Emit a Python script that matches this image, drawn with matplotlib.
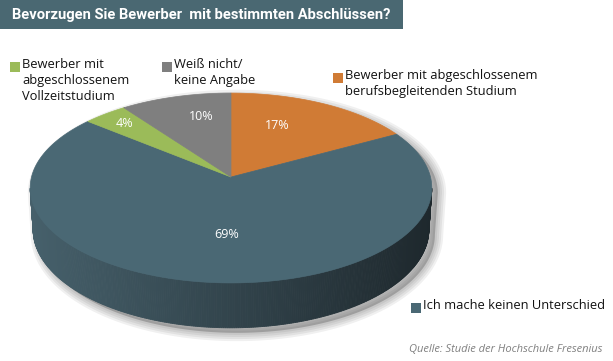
import numpy as np
import matplotlib.pyplot as plt
from matplotlib.patches import Polygon, Rectangle
import matplotlib.colors as mcolors

plt.rcParams['font.family'] = ['Open Sans', 'DejaVu Sans']

# Daten
labels = ["Bewerber mit abgeschlossenem\nberufsbegleitenden Studium",
          "Ich mache keinen Unterschied",
          "Bewerber mit\nabgeschlossenem\nVollzeitstudium",
          "Weiß nicht/\nkeine Angabe"]
values = [17, 69, 4, 10]
colors = ["#d07b35", "#4a6874", "#9bbb59", "#7f7f7f"]
title = "Bevorzugen Sie Bewerber  mit bestimmten Abschlüssen?"
source = "Quelle: Studie der Hochschule Fresenius"

# Perspektive der gekippten Scheibe (Pixelraum)
CX, CY = 231, 177
PHI = np.radians(28)
DIST = 7.62
FOC = 1520
DEPTH = 0.238


def proj(theta, r=1.0, y=0.0):
    X = r * np.sin(theta)
    Z = r * np.cos(theta)
    yc = Z * np.sin(PHI) + y * np.cos(PHI)
    zc = DIST + Z * np.cos(PHI) - y * np.sin(PHI)
    return CX + FOC * X / zc, CY - FOC * yc / zc


fig = plt.figure(figsize=(6.13, 3.61), dpi=100)
ax = fig.add_axes([0, 0, 1, 1])
ax.set_xlim(0, 613)
ax.set_ylim(361, 0)
ax.axis('off')

# Titelbalken
ax.add_patch(Rectangle((0, 0), 403, 29, fc="#4a6872", ec='none'))
ttl = ax.text(12, 15, title, color='white', fontsize=12, fontweight='bold',
              va='center', ha='left', family=['Roboto', 'DejaVu Sans'])
fig.canvas.draw()
w = ttl.get_window_extent().width
ttl.set_fontsize(12 * 380 / w)

# Schatten
ts = np.arccos(-np.cos(PHI) / DIST)
th_far = np.linspace(-ts, ts, 200)
th_near = np.linspace(ts, 2 * np.pi - ts, 200)
sx1, sy1 = proj(th_far)
sx2, sy2 = proj(th_near, y=-DEPTH)
shadow = np.column_stack([np.r_[sx1, sx2] + 6, np.r_[sy1, sy2] + 5])
for lw in [12, 9, 6, 3]:
    ax.add_patch(Polygon(shadow, closed=True, fc='none', ec='k', lw=lw,
                         alpha=0.06, joinstyle='round'))
ax.add_patch(Polygon(shadow, closed=True, fc='#555555', ec='none', alpha=0.35))

# Seitenwand mit Verlauf (links heller, rechts dunkler)
c_left = np.array(mcolors.to_rgb("#46606b"))
c_right = np.array(mcolors.to_rgb("#1e282d"))
th = np.linspace(ts, 2 * np.pi - ts, 300)
tx, ty = proj(th)
bx, by = proj(th, y=-DEPTH)
xmin, xmax = tx.min(), tx.max()
for i in range(len(th) - 1):
    quad = [(tx[i], ty[i]), (tx[i + 1], ty[i + 1]),
            (bx[i + 1], by[i + 1]), (bx[i], by[i])]
    f = ((tx[i] + tx[i + 1]) / 2 - xmin) / (xmax - xmin)
    col = c_right * f + c_left * (1 - f)
    ax.add_patch(Polygon(quad, closed=True, fc=col, ec=col, lw=0.6))

# Deckfläche
frac = np.array(values) / sum(values)
start = 0.0
label_r = [0.6, 0.55, 0.8, 0.72]
label_off = [(-11, -6), (7, 3), (-4, -2), (11, -1)]
for v, fr, c, lr, (ox, oy) in zip(values, frac, colors, label_r, label_off):
    t = np.linspace(start, start + fr * 2 * np.pi, 200)
    px, py = proj(t)
    pts = np.column_stack([np.r_[CX, px], np.r_[CY, py]])
    ax.add_patch(Polygon(pts, closed=True, fc=c, ec=c, lw=0.5))
    mx, my = proj(start + fr * np.pi, r=lr)
    ax.text(mx + ox, my + oy, f"{v}%", color='white', fontsize=9,
            ha='center', va='center')
    start += fr * 2 * np.pi

# Legende
leg_pos = [(333, 73), (411, 303), (10, 62), (162, 62)]
for lab, c, (lx, ly) in zip(labels, colors, leg_pos):
    ax.add_patch(Rectangle((lx, ly), 10, 10, fc=c, ec='none'))
    ax.text(lx + 12, ly - 4, lab, fontsize=9.3, color='#111111', ha='left',
            va='top', linespacing=1.3)

ax.text(602, 350, source, fontsize=8, color='#808080', style='italic',
        ha='right', va='center')

fig.savefig("out.png", dpi=100)
